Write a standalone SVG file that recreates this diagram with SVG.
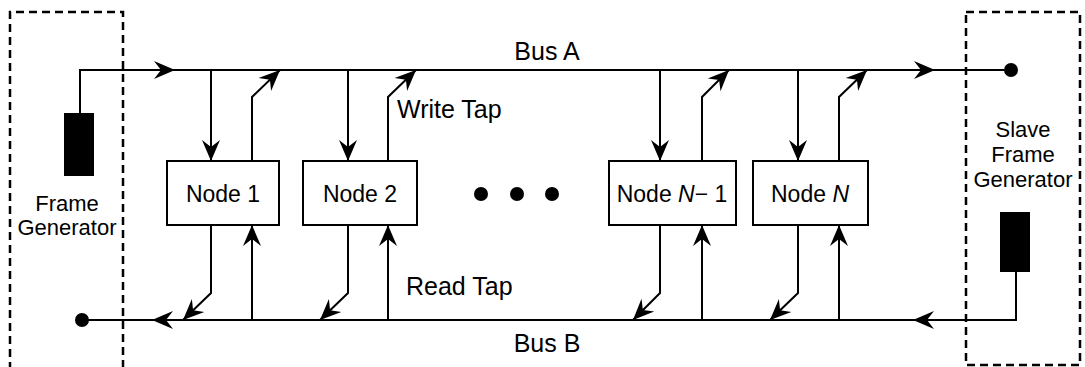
<svg xmlns="http://www.w3.org/2000/svg" width="1085" height="367" viewBox="0 0 1085 367">
<defs>
<style>
.ln{fill:none;stroke:#000;stroke-width:2}
.ar{fill:none;stroke:#000;stroke-width:2;marker-end:url(#ah)}
.box{fill:#fff;stroke:#000;stroke-width:2}
.dash{fill:none;stroke:#000;stroke-width:2.5;stroke-dasharray:8 5}
.t{font-family:"Liberation Sans",Arial,sans-serif;font-size:23px;fill:#000}
.ts{font-family:"Liberation Sans",Arial,sans-serif;font-size:22px;fill:#000}
.tl{font-family:"Liberation Sans",Arial,sans-serif;font-size:25px;fill:#000}
</style>
<marker id="ah" markerUnits="userSpaceOnUse" markerWidth="26" markerHeight="22" viewBox="-24 -11 26 22" refX="0" refY="0" orient="auto">
<path d="M0,0 L-21,-9 L-14,0 L-21,9 Z" fill="#000"/>
</marker>
</defs>
<g id="frame-generator">
<path class="dash" d="M10,370 V12 H123 V370"/>
<rect x="64" y="113" width="30" height="63" fill="#000"/>
<text class="ts" x="67" y="211" text-anchor="middle">Frame</text>
<text class="ts" x="67" y="235" text-anchor="middle">Generator</text>
</g>
<g id="slave-frame-generator">
<rect class="dash" x="966" y="12" width="114" height="353"/>
<rect x="1000" y="212" width="30" height="60" fill="#000"/>
<text class="ts" x="1023" y="137" text-anchor="middle">Slave</text>
<text class="ts" x="1023" y="162" text-anchor="middle">Frame</text>
<text class="ts" x="1023" y="187" text-anchor="middle">Generator</text>
</g>
<g id="connectors">
<path class="ar" d="M80,113 V70 H175"/>
<path class="ar" d="M175,70 H935"/>
<path class="ln" d="M935,70 H1010"/>
<circle cx="1011" cy="70" r="7"/>
<path class="ar" d="M1016,272 V320 H913"/>
<path class="ar" d="M913,320 H152"/>
<path class="ln" d="M152,320 H82"/>
<circle cx="82" cy="320" r="7"/>
<path class="ar" d="M211,70 V161"/>
<path class="ar" d="M252,161 V97 L280,70"/>
<path class="ar" d="M211,225 V293 L183,320"/>
<path class="ar" d="M252,320 V225"/>
<path class="ar" d="M348,70 V161"/>
<path class="ar" d="M388,161 V97 L416,70"/>
<path class="ar" d="M348,225 V293 L320,320"/>
<path class="ar" d="M388,320 V225"/>
<path class="ar" d="M660,70 V161"/>
<path class="ar" d="M702,161 V97 L729,70"/>
<path class="ar" d="M660,225 V293 L633,320"/>
<path class="ar" d="M702,320 V225"/>
<path class="ar" d="M798,70 V161"/>
<path class="ar" d="M839,161 V97 L867,70"/>
<path class="ar" d="M798,225 V293 L770,320"/>
<path class="ar" d="M839,320 V225"/>
</g>
<g id="node-1">
<rect class="box" x="167" y="161" width="112" height="64"/>
<text class="t" x="223" y="202" text-anchor="middle">Node 1</text>
</g>
<g id="node-2">
<rect class="box" x="303" y="161" width="114" height="64"/>
<text class="t" x="360" y="202" text-anchor="middle">Node 2</text>
</g>
<g id="ellipsis">
<circle cx="481" cy="194" r="7"/>
<circle cx="517" cy="194" r="7"/>
<circle cx="552" cy="194" r="7"/>
</g>
<g id="node-n-1">
<rect class="box" x="609" y="161" width="127" height="64"/>
<text class="t" x="672" y="202" text-anchor="middle">Node <tspan font-style="italic">N</tspan>− 1</text>
</g>
<g id="node-n">
<rect class="box" x="753" y="161" width="115" height="64"/>
<text class="t" x="810" y="202" text-anchor="middle">Node <tspan font-style="italic">N</tspan></text>
</g>
<g id="labels">
<text class="tl" x="547" y="60" text-anchor="middle">Bus A</text>
<text class="tl" x="397" y="118">Write Tap</text>
<text class="tl" x="406" y="295">Read Tap</text>
<text class="tl" x="547" y="352" text-anchor="middle">Bus B</text>
</g>
</svg>
